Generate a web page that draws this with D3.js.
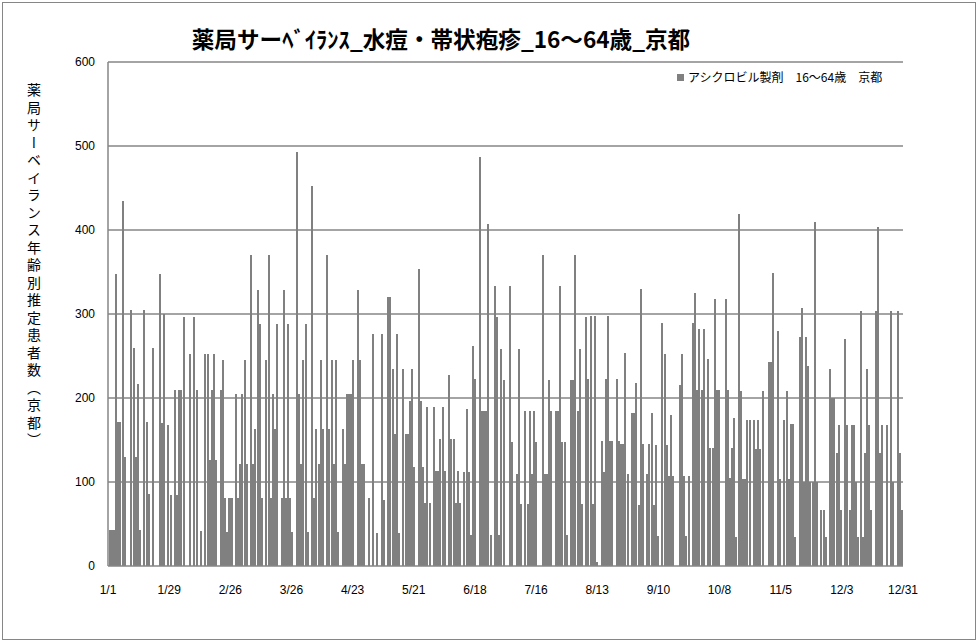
<!DOCTYPE html>
<html><head><meta charset="utf-8">
<script src="https://cdn.jsdelivr.net/npm/d3@7"></script>
<style>body{margin:0;background:#fff} svg{display:block}</style>
</head><body>
<svg id="c" width="979" height="643"></svg>
<script>
const chartTitle = "薬局サーﾍﾞｲﾗﾝｽ_水痘・帯状疱疹_16～64歳_京都";
const seriesName = "アシクロビル製剤　16～64歳　京都";
const yTitle = "薬局サーベイランス年齢別推定患者数（京都）";
const values = [
43,43,43,348,172,172,435,130,0,0,
305,260,130,217,43,0,305,172,86,0,
260,0,0,348,170,300,0,168,84,0,
210,84,210,210,297,0,0,252,0,297,
210,0,42,0,252,252,126,210,252,126,
0,210,245,81,41,81,81,0,205,81,
122,205,245,122,0,370,122,163,328,288,
81,0,245,370,81,205,163,288,0,81,
328,81,288,81,41,0,493,205,122,245,
288,41,0,452,81,163,122,245,163,0,
370,163,245,122,245,41,0,163,122,205,
205,205,245,0,328,245,122,122,0,81,
0,276,0,39,0,276,79,0,320,320,
235,157,276,39,0,235,157,157,197,235,
118,0,354,197,118,75,189,75,0,189,
113,113,151,189,113,0,227,151,151,75,
113,75,0,112,187,112,37,262,223,0,
487,184,184,184,407,37,0,333,296,37,
258,221,0,0,333,148,0,110,258,74,
0,184,74,184,110,184,148,0,0,370,
110,110,221,184,0,184,184,333,148,148,
37,0,221,221,370,184,258,74,0,296,
223,298,74,298,5,0,149,112,223,298,
149,149,0,223,149,145,145,254,110,0,
182,182,218,73,330,145,0,110,145,182,
73,144,36,0,289,252,144,107,180,107,
0,0,215,252,107,36,107,0,289,325,
210,282,210,282,0,246,140,140,318,210,
210,0,0,318,210,105,140,176,35,419,
208,104,104,174,174,0,174,139,174,139,
208,0,0,243,243,349,0,280,104,0,
174,208,104,169,169,34,0,273,307,100,
273,238,100,100,409,100,0,67,67,34,
0,235,200,200,134,168,67,0,270,168,
67,168,168,100,34,304,34,134,235,168,
67,0,304,404,134,168,0,168,0,304,
100,0,304,134,67
];
const yTicks = [0,100,200,300,400,500,600];
const xTickLabels = ["1/1","1/29","2/26","3/26","4/23","5/21","6/18","7/16","8/13","9/10","10/8","11/5","12/3","12/31"];
const xTickDays = [0,28,56,84,112,140,168,196,224,252,280,308,336,364];

const svg = d3.select("#c");
const W = 979, H = 643;
const L = 108, R = 903, T = 62, B = 566;
const grey = "#868686";
const latin = "'Liberation Sans', Arial, sans-serif";
const cjk = "'Noto Sans CJK JP', 'Noto Sans', sans-serif";

svg.append("rect").attr("width", W).attr("height", H).attr("fill", "#fff");
svg.append("rect").attr("x", 2.5).attr("y", 2.5).attr("width", 973).attr("height", 637)
  .attr("fill", "none").attr("stroke", grey).attr("stroke-width", 1);

const days = d3.range(values.length);
const x = d3.scaleBand().domain(days).range([L + 0.5, R]).paddingInner(0.08).paddingOuter(0.05);
const xl = d3.scaleLinear().domain([0, 364]).range([L, R]);
const y = d3.scaleLinear().domain([0, 600]).range([B, T]);

// gridlines
svg.append("g").selectAll("line").data(yTicks.filter(t => t > 0)).join("line")
  .attr("x1", L).attr("x2", R).attr("y1", d => y(d)).attr("y2", d => y(d))
  .attr("stroke", grey).attr("stroke-width", 1.5);

// bars
svg.append("g").attr("shape-rendering", "crispEdges").selectAll("rect").data(values).join("rect")
  .attr("x", (d, i) => x(i)).attr("width", x.bandwidth())
  .attr("y", d => y(d)).attr("height", d => B - y(d))
  .attr("fill", "#808080");

// axes lines
svg.append("line").attr("x1", L).attr("x2", L).attr("y1", T).attr("y2", B).attr("stroke", grey).attr("stroke-width", 1.5);
svg.append("line").attr("x1", L).attr("x2", R).attr("y1", B).attr("y2", B).attr("stroke", grey).attr("stroke-width", 1.5);

// y labels
svg.append("g").selectAll("text").data(yTicks).join("text")
  .attr("x", 95).attr("y", d => y(d)).attr("dy", "0.35em").attr("text-anchor", "end")
  .attr("font-family", latin).attr("font-size", 12).attr("fill", "#000").text(d => d);

// x labels
svg.append("g").selectAll("text").data(xTickLabels).join("text")
  .attr("x", (d, i) => xl(xTickDays[i])).attr("y", 590).attr("dy", "0.35em").attr("text-anchor", "middle")
  .attr("font-family", latin).attr("font-size", 12).attr("fill", "#000").text(d => d);

// title
svg.append("text").attr("x", 441).attr("y", 40).attr("dy", "0.35em").attr("text-anchor", "middle")
  .attr("font-family", cjk).attr("font-weight", "bold").attr("font-size", 22.6).attr("fill", "#000")
  .text(chartTitle);

// legend
svg.append("rect").attr("x", 677).attr("y", 74).attr("width", 7).attr("height", 7).attr("fill", "#808080");
svg.append("text").attr("x", 688).attr("y", 78).attr("dy", "0.35em")
  .attr("font-family", cjk).attr("font-size", 12).attr("fill", "#000").text(seriesName);

// y title, vertical writing
svg.append("text").attr("x", 34).attr("y", 83)
  .style("writing-mode", "vertical-rl").style("text-orientation", "upright")
  .attr("letter-spacing", 3.5)
  .attr("font-family", cjk).attr("font-size", 14).attr("fill", "#000").text(yTitle);
</script>
</body></html>
